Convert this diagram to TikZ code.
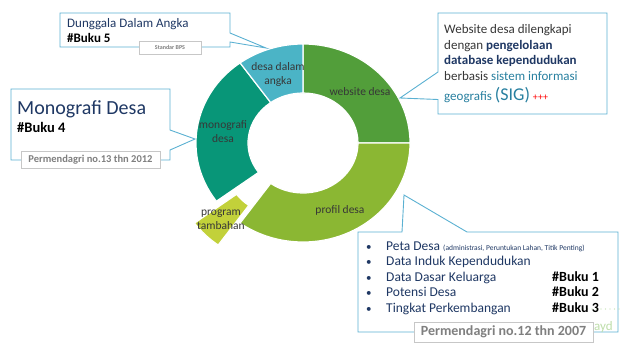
\documentclass[tikz,border=0pt]{standalone}
\usepackage{fontspec}
\setmainfont{Carlito}
\usetikzlibrary{calc,shadows}
\definecolor{webgreen}{RGB}{82,158,58}
\definecolor{profgreen}{RGB}{139,183,51}
\definecolor{monoteal}{RGB}{8,150,120}
\definecolor{dalamblue}{RGB}{75,180,198}
\definecolor{progyellow}{RGB}{194,209,58}
\definecolor{callblue}{RGB}{91,177,210}
\definecolor{navy}{RGB}{31,56,100}
\definecolor{lblgray}{RGB}{55,55,55}
\definecolor{tealtxt}{RGB}{40,128,160}
\definecolor{boxgray}{RGB}{127,127,127}
\definecolor{palegreen}{RGB}{190,222,170}
\newcommand\donutslice[4]{%
  \fill[#4, draw=white, line width=1.2pt]
    ($(#1)+(#2:107pt and 99pt)$) arc[start angle=#2, end angle=#3, x radius=107pt, y radius=99pt]
    -- ($(#1)+(#3:55pt and 50pt)$) arc[start angle=#3, end angle=#2, x radius=55pt, y radius=50pt] -- cycle;}
\begin{document}
\begin{tikzpicture}[x=1pt,y=-1pt,
  lbl/.style={text=lblgray, font=\fontsize{11.5}{14}\selectfont, align=center, inner sep=0pt},
  callout/.style={draw=callblue, line width=0.9pt, fill=white},
  graybox/.style={draw=black!22, line width=0.8pt, fill=white, text=boxgray, inner sep=0pt,
    drop shadow={opacity=0.25, shadow xshift=1pt, shadow yshift=-1pt}},
  txt/.style={anchor=base west, inner sep=0pt},
  navytxt/.style={txt, text=navy, font=\fontsize{13.5}{16}\selectfont},
  bukutxt/.style={txt, text=black, font=\bfseries\fontsize{14}{16}\selectfont},
  bullet/.style={txt, text=navy, font=\fontsize{11}{13}\selectfont}]
\useasboundingbox (0,0) rectangle (621,343);
% donut
\coordinate (c) at (303,143);
\coordinate (cx) at ($(c)+(225:31pt)$);
\donutslice{c}{90}{0}{webgreen}
\donutslice{c}{0}{-126}{profgreen}
\donutslice{cx}{-126}{-144}{progyellow}
\donutslice{c}{216}{126}{monoteal}
\donutslice{c}{126}{90}{dalamblue}
\node[lbl] (lweb) at (360,92) {website desa};
\node[lbl] (lprof) at (340,210) {profil desa};
\node[lbl] (lmono) at (223,132) {monografi\\desa};
\node[lbl] (ldal) at (278,74) {desa dalam\\angka};
\node[lbl] (lprog) at (221,220) {program\\tambahan};
% callout: Dunggala
\draw[callout] (60,13) -- (230,13) -- (230,33) -- (266,48) -- (230,42) -- (230,47) -- (60,47) -- cycle;
\node[txt, text=navy, font=\fontsize{13}{15}\selectfont] (tdun) at (67,27.5) {Dunggala Dalam Angka};
\node[txt, text=black, font=\bfseries\fontsize{13}{15}\selectfont] (tb5) at (67,42.5) {\#Buku 5};
\node[graybox, minimum width=62pt, minimum height=13pt, font=\bfseries\fontsize{6}{7}\selectfont] (sbps) at (170,47.5) {Standar BPS};
% callout: Monografi
\draw[callout] (11,89) -- (170,89) -- (170,130) -- (195,139) -- (170,150) -- (170,160) -- (11,160) -- cycle;
\node[txt, text=navy, font=\fontsize{20}{24}\selectfont] (tmono) at (17,114) {Monografi Desa};
\node[txt, text=black, font=\bfseries\fontsize{14.5}{16}\selectfont] (tb4) at (17,132.5) {\#Buku 4};
\node[graybox, minimum width=139pt, minimum height=17pt, font=\bfseries\fontsize{10.5}{12}\selectfont] (p13) at (90.5,159.5) {Permendagri no.13 thn 2012};
% callout: website
\draw[callout] (438,13) -- (607,13) -- (607,114) -- (438,114) -- (438,99.5) -- (400,98) -- (438,72) -- cycle;
\node[txt, text=lblgray, font=\fontsize{13}{15}\selectfont] (w1) at (444,33.5) {Website desa dilengkapi};
\node[txt, text=lblgray, font=\fontsize{13}{15}\selectfont] (w2) at (444,49) {dengan \textcolor{navy}{\bfseries pengelolaan}};
\node[txt, text=navy, font=\bfseries\fontsize{13}{15}\selectfont] (w3) at (444,64.5) {database kependudukan};
\node[txt, text=lblgray, font=\fontsize{13}{15}\selectfont] (w4) at (444,80) {berbasis \textcolor{tealtxt}{sistem informasi}};
\node[txt, text=tealtxt, font=\fontsize{13}{15}\selectfont] (w5) at (444,100) {geografis {\fontsize{18}{20}\selectfont (SIG)} \textcolor{red}{\fontsize{10}{12}\selectfont +++}};
% callout: profil desa
\draw[callout] (358,232) -- (402,232) -- (404,195) -- (467,232) -- (618,232) -- (618,332) -- (358,332) -- cycle;
\draw[palegreen, line width=1.3pt, line cap=round, dash pattern=on 0pt off 4.5pt] (583,309) -- (621,309);
\node[txt, text=palegreen, font=\fontsize{13}{15}\selectfont] (ayd) at (594,330) {ayd};
\foreach \y/\n in {250/1,265.5/2,281/3,296.5/4,312/5} {
  \node[bullet] (b\n) at (366,\y) {•};
}
\node[navytxt] (i1) at (386,250) {Peta Desa {\fontsize{7.5}{9}\selectfont (administrasi, Peruntukan Lahan, Titik Penting)}};
\node[navytxt] (i2) at (386,265.5) {Data Induk Kependudukan};
\node[navytxt] (i3) at (386,281) {Data Dasar Keluarga};
\node[navytxt] (i4) at (386,296.5) {Potensi Desa};
\node[navytxt] (i5) at (386,312) {Tingkat Perkembangan};
\node[bukutxt] (bk1) at (552,281) {\#Buku 1};
\node[bukutxt] (bk2) at (552,296.5) {\#Buku 2};
\node[bukutxt] (bk3) at (552,312) {\#Buku 3};
\node[graybox, minimum width=179pt, minimum height=20pt, font=\bfseries\fontsize{14}{16}\selectfont] (p12) at (503.5,332) {Permendagri no.12 thn 2007};
\end{tikzpicture}
\end{document}
